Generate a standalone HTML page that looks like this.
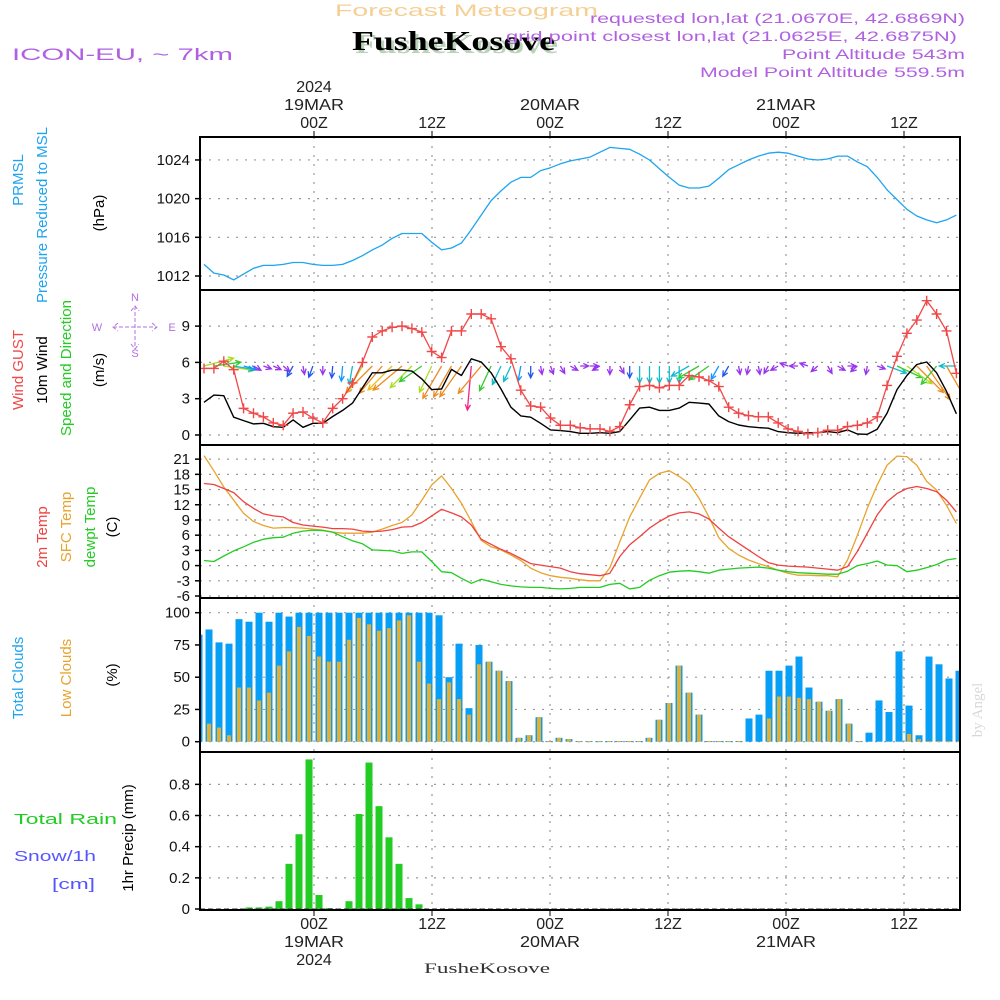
<!DOCTYPE html>
<html><head><meta charset="utf-8"><title>Meteogram FusheKosove</title>
<style>
html,body{margin:0;padding:0;background:#fff;}
svg{display:block;font-family:"Liberation Sans",sans-serif;}
</style></head>
<body>
<svg id="chart" width="1000" height="1000" viewBox="0 0 1000 1000" xmlns="http://www.w3.org/2000/svg">
<defs>
<clipPath id="clipAll"><rect x="200" y="137" width="760" height="773"/></clipPath>
</defs>
<rect x="0" y="0" width="1000" height="1000" fill="#fff"/>
<g id="header">
<text x="335" y="16" font-size="17" textLength="263" lengthAdjust="spacingAndGlyphs" fill="#f5cf94">Forecast Meteogram</text>
<text x="355" y="53" font-family="Liberation Serif, serif" font-weight="bold" font-size="27" textLength="203" lengthAdjust="spacingAndGlyphs" fill="#b9d3b9">FusheKosove</text>
<text x="352" y="50" font-family="Liberation Serif, serif" font-weight="bold" font-size="27" textLength="203" lengthAdjust="spacingAndGlyphs" fill="#000">FusheKosove</text>
<text x="590" y="23" font-size="14" textLength="375" lengthAdjust="spacingAndGlyphs" fill="#b060e0">requested lon,lat (21.0670E, 42.6869N)</text>
<text x="506" y="41" font-size="14" textLength="451" lengthAdjust="spacingAndGlyphs" fill="#b060e0">grid point closest lon,lat (21.0625E, 42.6875N)</text>
<text x="782" y="59" font-size="14" textLength="183" lengthAdjust="spacingAndGlyphs" fill="#b060e0">Point Altitude 543m</text>
<text x="700" y="77" font-size="14" textLength="265" lengthAdjust="spacingAndGlyphs" fill="#b060e0">Model Point Altitude 559.5m</text>
<text x="12" y="60" font-size="17" textLength="221" lengthAdjust="spacingAndGlyphs" fill="#b060e0">ICON-EU, ~ 7km</text>
<text x="982" y="710" text-anchor="middle" font-family="Liberation Serif, serif" font-size="15" fill="#d8d8d8" transform="rotate(-90 982 710)">by Angel</text>
<text x="424" y="973" font-family="Liberation Serif, serif" font-size="15" textLength="126" lengthAdjust="spacingAndGlyphs" fill="#333">FusheKosove</text>
</g>
<g id="grid"></g>
<g id="series" clip-path="url(#clipAll)"></g>
<g id="frames"></g>
<g id="labels"></g>
</svg>
<script>
// ---------- DATA ----------
const timeTickLabels = ["00Z","12Z","00Z","12Z","00Z","12Z"];
const topDateLabels = ["19MAR","","20MAR","","21MAR",""];
const pressure = [1013.2,1012.3,1012.1,1011.6,1012.2,1012.8,1013.1,1013.1,1013.2,1013.4,
1013.4,1013.2,1013.1,1013.1,1013.2,1013.6,1014.1,1014.7,1015.2,1015.9,
1016.4,1016.4,1016.4,1015.5,1014.7,1014.9,1015.4,1016.8,1018.3,1019.8,
1020.8,1021.7,1022.2,1022.2,1022.9,1023.2,1023.6,1023.9,1024.1,1024.3,
1024.8,1025.3,1025.2,1025.1,1024.6,1024.0,1023.1,1022.2,1021.4,1021.1,
1021.1,1021.3,1022.1,1023.0,1023.5,1024.0,1024.4,1024.7,1024.8,1024.7,
1024.4,1024.1,1024.0,1024.1,1024.4,1024.4,1023.8,1023.3,1022.2,1020.9,
1019.9,1018.9,1018.2,1017.8,1017.5,1017.8,1018.3];
const pressureTicks = [1012,1016,1020,1024];
const gust = [5.5,5.5,6.1,5.4,2.2,1.8,1.5,1.0,0.8,1.8,1.9,1.4,1.0,2.2,3.0,4.3,6.0,8.1,8.6,8.9,
9.0,8.8,8.5,6.9,6.4,8.6,8.6,10.0,10.0,9.6,7.3,6.3,3.7,2.4,2.3,1.4,0.8,0.8,0.6,0.5,
0.5,0.3,0.7,2.5,4.0,4.1,3.9,4.1,4.1,4.9,4.8,4.5,4.0,2.3,1.8,1.6,1.5,1.5,1.0,0.5,
0.3,0.1,0.2,0.4,0.4,0.7,0.8,1.0,1.5,4.1,6.5,8.4,9.5,11.1,10.0,8.6,5.1];
const wind10m = [2.7,3.3,3.25,1.47,1.19,0.92,0.97,0.69,0.64,1.25,0.64,0.97,0.97,1.53,2.03,2.64,3.89,5.14,5.14,5.36,
5.36,5.28,4.64,3.75,3.8,5.42,4.92,6.3,6.03,5.14,3.8,2.3,1.58,1.47,0.97,0.42,0.36,0.28,0.14,0.14,
0.19,0.14,0.28,1.25,2.22,2.3,2.03,2.03,2.22,2.7,2.64,2.56,1.58,1.11,0.83,0.69,0.61,0.56,0.28,0.19,
0.14,0.19,0.19,0.28,0.19,0.42,0.08,0.06,0.47,1.81,3.75,4.92,5.83,6.03,5.14,3.61,1.75];
const arrowDir = [-15,-8,8,10,15,30,20,25,40,120,80,110,90,95,95,100,120,135,130,135,
140,135,145,115,120,120,125,95,130,115,115,115,100,90,80,70,60,30,0,0,
150,90,60,90,90,90,90,90,90,150,150,145,120,120,80,100,80,120,150,200,
180,200,140,60,30,0,140,100,20,20,25,35,45,55,130,60,180];
const arrowSpd = [9,8,9,6,4,2.5,2.5,2.5,2.5,3.5,2.5,3.5,2.5,3.5,4.5,5.5,9,11,10.5,10,
11,9,8,8.5,11,10.5,11,13,10.5,8,6,5,4.5,3.5,2.5,2.5,2.5,2.5,2.5,2.5,
2.5,2.5,2.5,3.5,5,5,5,5,5,6,7,7,4.5,3.5,2.5,2.5,2.5,2.5,2.5,2.5,
2.5,2.5,2.5,2.5,2.5,2.5,2.5,2.5,2.5,6,8,9,11,12,7,11,5];
const windTicks = [0,3,6,9];
const temp2m = [16.2,16.0,15.2,14.4,12.6,11.3,10.2,9.8,9.6,8.5,8.0,7.8,7.6,7.3,7.3,7.2,6.8,6.7,6.8,7.1,
7.6,7.7,8.5,9.8,11.1,10.4,9.6,8.0,5.2,4.2,3.2,2.4,1.4,0.4,0.1,-0.2,-0.5,-1.2,-1.6,-1.8,
-2.0,-1.5,1.8,4.1,5.7,7.4,8.7,9.8,10.4,10.6,10.2,9.2,7.4,5.7,4.4,3.1,1.8,0.6,0.1,-0.1,
-0.2,-0.3,-0.5,-0.7,-0.9,-0.2,2.8,6.4,10.0,12.6,14.2,15.2,15.6,15.2,14.6,12.9,10.6];
const tempSfc = [21.7,18.7,15.5,12.9,10.3,8.7,7.9,7.4,7.5,7.5,7.4,7.2,7.0,6.6,6.4,6.4,6.4,6.6,7.2,7.9,
8.5,10.0,12.9,15.9,17.7,15.2,12.3,8.7,5.0,3.7,3.1,2.1,1.0,-0.5,-1.4,-2.0,-2.3,-2.5,-2.8,-3.0,
-3.0,-0.4,4.7,9.6,13.3,16.9,18.2,18.7,17.6,16.2,13.3,9.6,5.5,3.4,2.1,1.1,0.4,-0.2,-0.9,-1.5,
-1.9,-1.9,-2.0,-2.0,-2.2,1.1,6.0,11.3,15.9,19.8,21.6,21.5,19.8,16.6,14.9,11.9,8.3];
const dewpoint = [1.0,0.8,1.9,2.9,3.7,4.6,5.2,5.5,5.6,6.4,6.8,7.0,6.9,6.6,5.7,4.9,4.3,3.1,3.0,2.9,
2.4,2.7,2.7,0.8,-1.2,-1.4,-2.5,-3.5,-2.7,-3.2,-3.7,-4.0,-4.2,-4.3,-4.3,-4.5,-4.6,-4.5,-4.3,-4.3,
-4.3,-3.7,-3.5,-4.6,-4.3,-2.9,-2.0,-1.3,-1.1,-1.0,-1.2,-1.5,-0.9,-0.7,-0.5,-0.4,-0.3,-0.5,-0.9,-1.2,
-1.4,-1.5,-1.6,-1.7,-1.7,-1.1,0.0,0.4,0.9,0.1,0.0,-1.2,-0.9,-0.4,0.2,1.1,1.4];
const tempTicks = [-6,-3,0,3,6,9,12,15,18,21];
const totalClouds = [83,87,77,76,95,93,100,93,100,97,100,100,100,100,100,100,100,100,100,100,
100,100,100,100,98,50,76,26,75,62,55,47,3,5,19,0.5,3,2,0.5,0.5,
0.5,0.5,0.5,0.5,0.5,3,17,30,59,38,21,0.5,0.5,0.5,0.5,18,21,55,55,59,
66,42,31,24,33,14,0.5,7,32,23,70,28,5,66,60,49,55];
const lowClouds = [3,14,11,5,42,42,32,38,59,70,89,82,66,62,62,79,96,91,86,88,
94,98,62,45,33,46,33,21,60,62,55,47,3,5,19,0.5,3,2,0.5,0.5,
0.5,0.5,0.5,0.5,0.5,3,17,30,59,38,21,0.5,0.5,0.5,0.5,0,0,18,35,35,
34,33,31,24,33,14,0.5,0,0,0,0,6,2,0.5,0.5,0.5,0.5];
const cloudTicks = [0,25,50,75,100];
const precip = [0,0,0,0,0,0.01,0.01,0.015,0.05,0.29,0.48,0.96,0.09,0.006,0,0.05,0.61,0.94,0.66,0.46,
0.29,0.07,0.03,0,0,0,0,0,0,0,0,0,0,0,0,0,0,0,0,0,
0,0,0,0,0,0,0,0,0,0,0,0,0,0,0,0,0,0,0,0,
0,0,0,0,0,0,0,0,0,0,0,0,0,0,0,0,0];
const precipTicks = [0,0.2,0.4,0.6,0.8];

// ---------- AXES ----------
const NS = "http://www.w3.org/2000/svg";
const X0 = 200, X1 = 960;
const panels = {p:[137,290], w:[290,445], t:[445,598], c:[598,752], r:[752,910]};
function xLine(k){ return 204 + 9.9*k; }
function xBar(n){ return 199 + 10*n; }
function xHour(h){ return 314 + h*118/12; }
function yP(v){ return 276 - (v-1012)*9.67; }
function yW(v){ return 435 - v*12.1; }
function yT(v){ return 565.6 - v*5.07; }
function yC(v){ return 741.7 - v*1.29; }
function yR(v){ return 909 - v*155.8; }

function mk(tag, attrs, parent){
  const e = document.createElementNS(NS, tag);
  for (const k in attrs) e.setAttribute(k, attrs[k]);
  parent.appendChild(e);
  return e;
}
const gGrid = document.getElementById('grid');
const gSer = document.getElementById('series');
const gFr = document.getElementById('frames');
const gLab = document.getElementById('labels');

const gridHours = [0,12,24,36,48,60];
for (let i=0;i<gridHours.length;i++){
  const x = xHour(gridHours[i]);
  const l = mk('line',{x1:x,x2:x,y1:137,y2:910,stroke:'#999','stroke-width':1.2,'stroke-dasharray':'2,7'},gGrid);
  
  
  const tt = mk('line',{x1:x,x2:x,y1:131,y2:137,stroke:'#000','stroke-width':1},gFr);
  
  
  const bt = mk('line',{x1:x,x2:x,y1:910,y2:916,stroke:'#000','stroke-width':1},gFr);
  
  
  const t1 = mk('text',{x:x,y:128,'text-anchor':'middle','font-size':16,fill:'#222'},gLab);
  t1.textContent = timeTickLabels[i];
  
  
  const t2 = mk('text',{x:x,y:929,'text-anchor':'middle','font-size':16,fill:'#222'},gLab);
  t2.textContent = timeTickLabels[i];
  
  
  if (topDateLabels[i]){
    const d1 = mk('text',{x:x,y:110,'text-anchor':'middle','font-size':16,fill:'#222',textLength:60,lengthAdjust:'spacingAndGlyphs'},gLab);
    d1.textContent = topDateLabels[i];
    
    
    const d2 = mk('text',{x:x,y:947,'text-anchor':'middle','font-size':16,fill:'#222',textLength:60,lengthAdjust:'spacingAndGlyphs'},gLab);
    d2.textContent = topDateLabels[i];
    
    
  }
}
const y1 = mk('text',{x:xHour(0),y:92,'text-anchor':'middle','font-size':16,fill:'#222'},gLab);
y1.textContent = '2024';


const y2 = mk('text',{x:xHour(0),y:965,'text-anchor':'middle','font-size':16,fill:'#222'},gLab);
y2.textContent = '2024';



function yAxis(ticks, yf, name, fmt){
  for (const v of ticks){
    const y = yf(v);
    const g = mk('line',{x1:X0,x2:X1,y1:y,y2:y,stroke:'#999','stroke-width':1.2,'stroke-dasharray':'2,7'},gGrid);
    
    
    const tk = mk('line',{x1:X0-5,x2:X0,y1:y,y2:y,stroke:'#000','stroke-width':1.5},gFr);
    
    
    const t = mk('text',{x:X0-10,y:y+5,'text-anchor':'end','font-size':15,fill:'#111'},gLab);
    t.textContent = fmt ? fmt(v) : String(v);
    
    
  }
}
yAxis(pressureTicks, yP, 'pressure-axis');
yAxis(windTicks, yW, 'wind-axis');
yAxis(tempTicks, yT, 'temp-axis');
yAxis(cloudTicks, yC, 'cloud-axis');
yAxis(precipTicks, yR, 'precip-axis', v => v===0 ? '0' : v.toFixed(1));

// ---------- SERIES ----------
function linePath(vals, yf, color, name, w){
  const d = vals.map((v,k)=>(k?'L':'M')+xLine(k).toFixed(1)+','+yf(v).toFixed(1)).join('');
  const p = mk('path',{d:d,fill:'none',stroke:color,'stroke-width':w||1.3,'stroke-linejoin':'round'},gSer);
  
  
}
linePath(pressure, yP, '#1ea4f0', 'pressure-line');

for (let n=0;n<totalClouds.length;n++){
  const x = xBar(n);
  const b = mk('rect',{x:x-3.5,y:yC(totalClouds[n]),width:7,height:Math.max(yC(0)-yC(totalClouds[n]),1),fill:'#069ff5'},gSer);
  
  
  const l = mk('rect',{x:x-2,y:yC(lowClouds[n]),width:4,height:Math.max(yC(0)-yC(lowClouds[n]),lowClouds[n]>0?1:0),fill:'#e8ad2c'},gSer);
  
  
}
for (let n=0;n<precip.length;n++){
  if (precip[n]<=0) continue;
  const x = xBar(n);
  const b = mk('rect',{x:x-3.5,y:yR(precip[n]),width:7,height:Math.max(yR(0)-yR(precip[n]),1),fill:'#22cc22'},gSer);
  
  
}
const bl = mk('line',{x1:X0,x2:X1,y1:909,y2:909,stroke:'#333','stroke-width':1,'stroke-dasharray':'5,3'},gSer);



linePath(tempSfc, yT, '#e8a32c', 'sfc-temp-line');
linePath(temp2m, yT, '#f04040', '2m-temp-line');
linePath(dewpoint, yT, '#22cc22', 'dewpoint-line');

function arrowColor(s){
  if (s<3) return '#9933ee';
  if (s<4) return '#2255ee';
  if (s<5) return '#1199ff';
  if (s<6.5) return '#11bbcc';
  if (s<8.5) return '#33cc33';
  if (s<9.5) return '#aadd22';
  if (s<10.2) return '#e8c020';
  if (s<12.5) return '#ee8a22';
  return '#ee2288';
}
for (let k=0;k<arrowDir.length;k++){
  const x0 = xLine(k), y0 = 366;
  const a = arrowDir[k]*Math.PI/180;
  const L = arrowSpd[k]*3.4;
  const x1 = x0 + L*Math.cos(a), y1a = y0 + L*Math.sin(a);
  const c = arrowColor(arrowSpd[k]);
  const h = 6, ha = 0.45;
  const d = 'M'+x0.toFixed(1)+','+y0+'L'+x1.toFixed(1)+','+y1a.toFixed(1)+
    'M'+(x1-h*Math.cos(a-ha)).toFixed(1)+','+(y1a-h*Math.sin(a-ha)).toFixed(1)+'L'+x1.toFixed(1)+','+y1a.toFixed(1)+
    'L'+(x1-h*Math.cos(a+ha)).toFixed(1)+','+(y1a-h*Math.sin(a+ha)).toFixed(1);
  const p = mk('path',{d:d,fill:'none',stroke:c,'stroke-width':1.3},gSer);
  
  
}
linePath(wind10m, yW, '#000', 'wind-10m-line', 1.4);
linePath(gust, yW, '#f04848', 'wind-gust-line', 1.3);
for (let k=0;k<gust.length;k++){
  const x = xLine(k), y = yW(gust[k]);
  const m = mk('path',{d:'M'+(x-5)+','+y+'H'+(x+5)+'M'+x+','+(y-5)+'V'+(y+5),stroke:'#f04848','stroke-width':1.4},gSer);
  
  
}

for (const key in panels){
  const [a,b] = panels[key];
  const r = mk('rect',{x:X0,y:a,width:X1-X0,height:b-a,fill:'none',stroke:'#000','stroke-width':2},gFr);
  
  
}

// ---------- LEFT LABELS ----------
function vlabel(x, y, txt, color, size, name){
  const t = mk('text',{x:x,y:y,'text-anchor':'middle','font-size':size||15,fill:color,transform:'rotate(-90 '+x+' '+y+')'},gLab);
  t.textContent = txt;
  
  
}
vlabel(23,180,'PRMSL','#1ea4f0',15,'prmsl-label');
vlabel(47,215,'Pressure Reduced to MSL','#1ea4f0',15,'pressure-reduced-label');
vlabel(104,213,'(hPa)','#000',15,'hpa-unit-label');
vlabel(23,370,'Wind GUST','#f04848',15,'wind-gust-label');
vlabel(47,370,'10m Wind','#000',15,'10m-wind-label');
vlabel(71,368,'Speed and Direction','#22cc22',15,'speed-direction-label');
vlabel(104,370,'(m/s)','#000',15,'ms-unit-label');
vlabel(47,537,'2m Temp','#f04040',15,'2m-temp-label');
vlabel(71,527,'SFC Temp','#e8a32c',15,'sfc-temp-label');
vlabel(95,527,'dewpt Temp','#22cc22',15,'dewpt-temp-label');
vlabel(117,527,'(C)','#000',15,'c-unit-label');
vlabel(23,678,'Total Clouds','#1ea4f0',15,'total-clouds-label');
vlabel(71,678,'Low Clouds','#e8a32c',15,'low-clouds-label');
vlabel(117,675,'(%)','#000',15,'percent-unit-label');
vlabel(133,838,'1hr Precip (mm)','#000',15,'precip-unit-label');
function hlabel(x,y,txt,color,name,len){
  const t = mk('text',{x:x,y:y,'font-size':15,fill:color,textLength:len,lengthAdjust:'spacingAndGlyphs'},gLab);
  t.textContent = txt;
  
  
  return t;
}
hlabel(14,824,'Total   Rain','#22cc22','total-rain-label',103).setAttribute('xml:space','preserve');
hlabel(14,861,'Snow/1h','#5555ff','snow-label',82);
hlabel(52,889,'[cm]','#5555ff','snow-unit-label',43);
const cmp = [['N',135,301],['S',135,357],['W',97,331],['E',172,331]];
for (const [s,x,y] of cmp){
  const t = mk('text',{x:x,y:y,'text-anchor':'middle','font-size':11,fill:'#b070e0'},gLab);
  t.textContent = s;
  
  
}
const cp = mk('path',{d:'M113,327H157M118,323L113,327L118,331M152,323L157,327L152,331M135,306V349M131,311L135,306L139,311M131,344L135,349L139,344',fill:'none',stroke:'#b070e0','stroke-width':1,'stroke-dasharray':'4,2'},gLab);


</script>
</body></html>
